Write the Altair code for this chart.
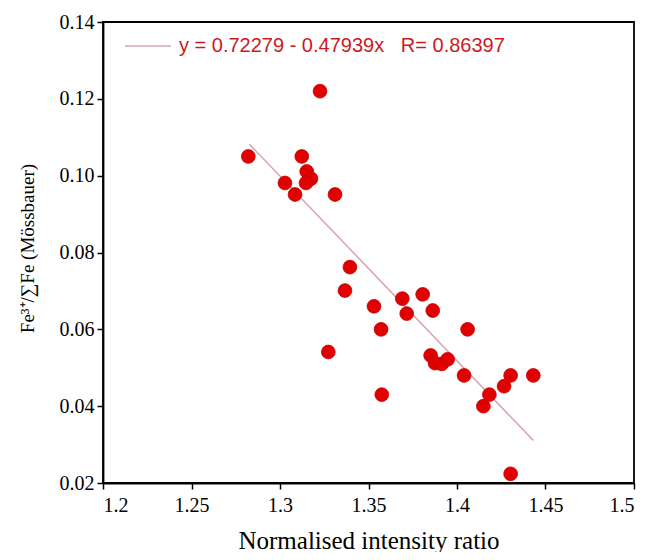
import altair as alt
import pandas as pd

# Data
ratio = [1.3226, 1.2821, 1.3123, 1.3151, 1.3175, 1.3147, 1.3028, 1.3085, 1.3311,
         1.3395, 1.3367, 1.3531, 1.3691, 1.3806, 1.3716, 1.3863, 1.3571, 1.4060,
         1.3273, 1.3851, 1.3876, 1.3914, 1.3947, 1.4040, 1.4303, 1.4431, 1.4266,
         1.4183, 1.4149, 1.3575, 1.4303]
fe3 = [0.1220, 0.1050, 0.1050, 0.1011, 0.0992, 0.0981, 0.0981, 0.0951, 0.0951,
       0.0762, 0.0701, 0.0660, 0.0680, 0.0691, 0.0641, 0.0649, 0.0600, 0.0600,
       0.0541, 0.0532, 0.0512, 0.0510, 0.0522, 0.0480, 0.0480, 0.0480, 0.0452,
       0.0430, 0.0400, 0.0430, 0.0224]

fit_x = [1.2827, 1.4431]
fit_y = [0.1082, 0.0311]

legend_text = ["y = 0.72279 - 0.47939x\u00a0\u00a0\u00a0R= 0.86397"]

x_ticks = [1.2, 1.25, 1.3, 1.35, 1.4, 1.45, 1.5]
y_ticks = [0.02, 0.04, 0.06, 0.08, 0.10, 0.12, 0.14]

pts = pd.DataFrame({"ratio": ratio, "fe3": fe3})
fit = pd.DataFrame({"ratio": fit_x, "fe3": fit_y})
leg = pd.DataFrame({"label": legend_text})

SERIF = "'Times New Roman', 'Liberation Serif', serif"

xscale = alt.Scale(domain=[1.2, 1.5], nice=False, zero=False)
yscale = alt.Scale(domain=[0.02, 0.14], nice=False, zero=False)

xaxis = alt.Axis(
    title="Normalised intensity ratio",
    values=x_ticks,
    format=".2~f",
    grid=False,
    labelFont=SERIF, labelFontSize=20, labelColor="black", labelPadding=6,
    titleFont=SERIF, titleFontSize=25, titleColor="black", titleFontWeight="normal",
    titleY=65,
    titleBaseline="alphabetic",
)
yaxis = alt.Axis(
    title="Fe³⁺/∑Fe (Mössbauer)",
    values=y_ticks,
    format=".2f",
    grid=False,
    labelFont=SERIF, labelFontSize=20, labelColor="black", labelPadding=3,
    titleFont=SERIF, titleFontSize=19, titleColor="black", titleFontWeight="normal",
    titleX=-70,
    titleY=226,
    titleBaseline="alphabetic",
)

line = alt.Chart(fit).mark_line(color="#d9a3ab", strokeWidth=1.5).encode(
    x=alt.X("ratio:Q", scale=xscale, axis=xaxis),
    y=alt.Y("fe3:Q", scale=yscale, axis=yaxis),
)

points = alt.Chart(pts).mark_point(
    filled=True, shape="circle", size=190, color="#e00000", opacity=1,
    stroke="#c80000", strokeWidth=0.8,
).encode(
    x=alt.X("ratio:Q", scale=xscale, axis=xaxis),
    y=alt.Y("fe3:Q", scale=yscale, axis=yaxis),
)

leg_rule = alt.Chart(leg).mark_rule(color="#d9a3ab", strokeWidth=1.5).encode(
    x=alt.value(22), x2=alt.value(68), y=alt.value(24)
)
leg_text = alt.Chart(leg).mark_text(
    align="left", baseline="middle", font="Liberation Sans", fontSize=20,
    color="#cc1a1f",
).encode(
    x=alt.value(76), y=alt.value(24), text="label:N"
)

chart = alt.layer(line, points, leg_rule, leg_text).properties(
    width=531, height=461,
    autosize=alt.AutoSizeParams(type="none"),
    padding={"left": 95, "top": 14, "right": 5, "bottom": 69},
).configure_view(
    stroke="black", strokeWidth=1.8
).configure_axis(
    labelFont=SERIF, titleFont=SERIF,
    domainColor="black", domainWidth=1.8, tickColor="black", tickWidth=1.5,
    tickSize=6,
)

chart.save("out.html", embed_options={"renderer": "svg", "actions": False})
